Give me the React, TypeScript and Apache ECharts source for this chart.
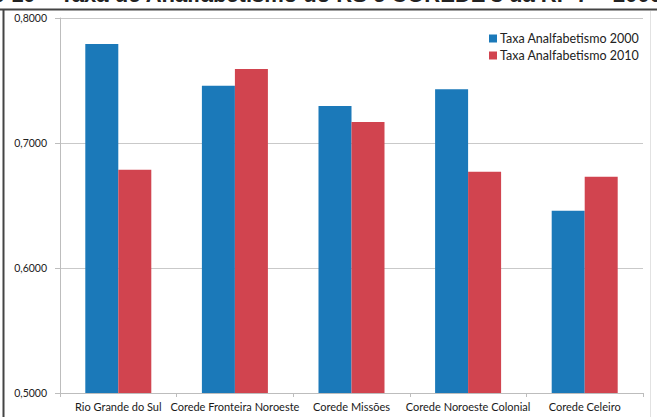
import React, { useEffect, useRef } from "react";
import * as echarts from "echarts";

const categories = [
  "Rio Grande do Sul",
  "Corede Fronteira Noroeste",
  "Corede Missões",
  "Corede Noroeste Colonial",
  "Corede Celeiro",
];
const seriesNames = ["Taxa Analfabetismo 2000", "Taxa Analfabetismo 2010"];
const values2000 = [0.7792, 0.7458, 0.7296, 0.743, 0.6458];
const values2010 = [0.6786, 0.7592, 0.7168, 0.677, 0.673];
const titleText = "Gráfico 10 – Taxa de Analfabetismo do RS e COREDE's da RF 7 – 2000/2010";

export default function App() {
  const ref = useRef<HTMLDivElement>(null);
  useEffect(() => {
    if (!ref.current) return;
    const chart = echarts.init(ref.current, null, { renderer: "svg" });
    const font = "Lato, 'Open Sans', sans-serif";
    chart.setOption({
      animation: false,
      backgroundColor: "#ffffff",
      textStyle: { fontFamily: font },
      grid: { left: 60, right: 14, top: 18, bottom: 24 },
      legend: {
        orient: "vertical",
        left: 484,
        top: 27,
        itemWidth: 8,
        itemHeight: 8,
        itemGap: 4,
        icon: "rect",
        textStyle: { fontSize: 12.5, color: "#222", fontFamily: font, padding: [0, 0, 0, -2] },
        data: seriesNames,
      },
      graphic: [
        {
          type: "text",
          left: -72,
          top: -17,
          style: {
            text: titleText,
            font: "bold 22px 'Liberation Sans', Arial, sans-serif",
            fill: "#222",
          },
          z: 10,
        },
        {
          type: "line",
          shape: { x1: 0, y1: 9.5, x2: 657, y2: 9.5 },
          style: { stroke: "#444", lineWidth: 2 },
          z: 10,
        },
        {
          type: "line",
          shape: { x1: 3.5, y1: 9, x2: 3.5, y2: 417 },
          style: { stroke: "#444", lineWidth: 2 },
          z: 10,
        },
        {
          type: "line",
          shape: { x1: 650.5, y1: 11, x2: 650.5, y2: 417 },
          style: { stroke: "#e2e2e2", lineWidth: 1 },
          z: 10,
        },
      ],
      xAxis: {
        type: "category",
        data: categories,
        axisLine: { lineStyle: { color: "#bdbdbd" } },
        axisTick: { show: true, alignWithLabel: false, length: 4, lineStyle: { color: "#bdbdbd" } },
        axisLabel: { fontSize: 11, color: "#1a1a1a", margin: 8, fontFamily: font, interval: 0 },
      },
      yAxis: {
        type: "value",
        min: 0.5,
        max: 0.8,
        interval: 0.1,
        axisLine: { show: true, lineStyle: { color: "#bdbdbd" } },
        axisTick: { show: true, length: 5, lineStyle: { color: "#bdbdbd" } },
        splitLine: { lineStyle: { color: "#c9c9c9" } },
        axisLabel: {
          fontSize: 10.5,
          color: "#222",
          margin: 13,
          fontFamily: font,
          formatter: (v: number) => v.toFixed(4).replace(".", ","),
        },
      },
      series: [
        {
          name: seriesNames[0],
          type: "bar",
          data: values2000,
          barWidth: 33,
          barGap: "0%",
          itemStyle: { color: "#1b79b9" },
        },
        {
          name: seriesNames[1],
          type: "bar",
          data: values2010,
          barWidth: 33,
          barGap: "0%",
          itemStyle: { color: "#d1444f" },
        },
      ],
    });
    return () => chart.dispose();
  }, []);
  return (
    <div
      ref={ref}
      style={{ position: "fixed", left: 0, top: 0, width: 657, height: 417 }}
    />
  );
}
